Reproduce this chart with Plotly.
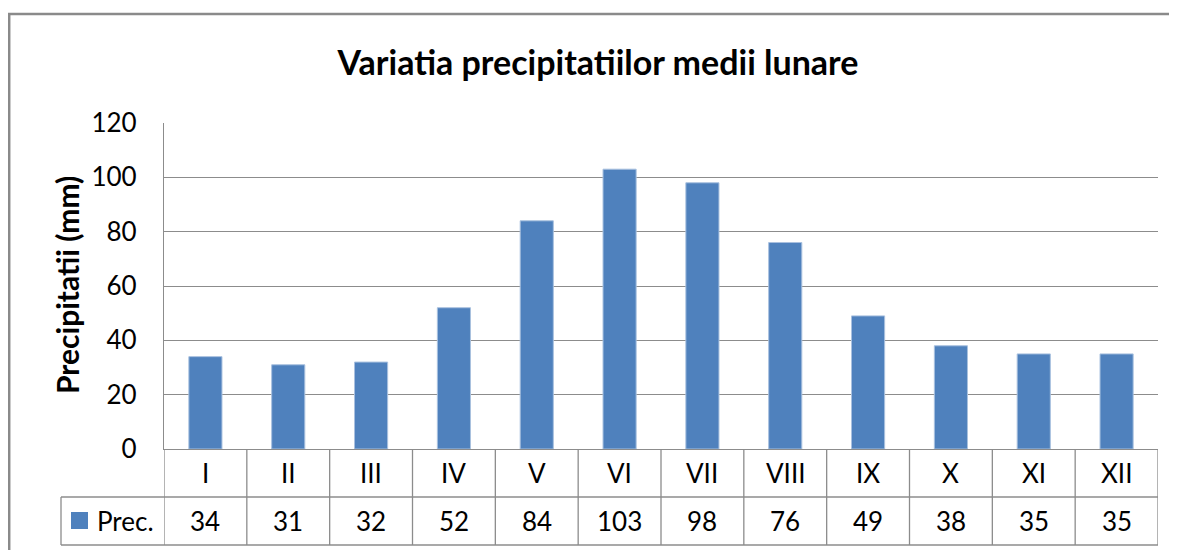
import plotly.graph_objects as go

# ---- data ----
months = ["I", "II", "III", "IV", "V", "VI", "VII", "VIII", "IX", "X", "XI", "XII"]
precip = [34, 31, 32, 52, 84, 103, 98, 76, 49, 38, 35, 35]
series_name = "Prec."
title_text = "Variatia precipitatiilor medii lunare"
y_title = "Precipitatii (mm)"
y_ticks = [0, 20, 40, 60, 80, 100, 120]

# ---- layout geometry (pixels, in screen coords; page body adds an 8px offset) ----
OFF = 8
W, H = 1177 - OFF, 550 - OFF
PLOT_L, PLOT_R, PLOT_T, PLOT_B = 164, 1158, 123, 449   # screen pixels
L = PLOT_L - OFF
T = PLOT_T - OFF
R = W - (PLOT_R - OFF)
B = H - (PLOT_B - OFF)
PW, PH = W - L - R, H - T - B

def px(x):
    return (x - OFF - L) / PW

def py(y):
    return (PLOT_B - y) / PH

FONT = "Lato"
BLUE = "#4F81BD"
GRID = "#8C8C8C"
ROW = 48
row1_mid = PLOT_B + ROW / 2
row2_top = PLOT_B + ROW
row2_mid = PLOT_B + ROW * 1.5
row2_bot = PLOT_B + ROW * 2
legend_left = 61

fig = go.Figure()
fig.add_trace(go.Bar(
    x=months, y=precip, name=series_name, width=0.4,
    marker=dict(color=BLUE, line=dict(color="#A9C1DF", width=1)),
    showlegend=False,
))

shapes = []
line = dict(color=GRID, width=1.3)
for yy in (row2_top, row2_bot):
    shapes.append(dict(type="line", xref="paper", yref="paper",
                       x0=px(legend_left), x1=1, y0=py(yy), y1=py(yy), line=line))
for k in range(len(months) + 1):
    shapes.append(dict(type="line", xref="x", yref="paper",
                       x0=k - 0.5, x1=k - 0.5, y0=py(PLOT_B), y1=py(row2_bot), line=line))
shapes.append(dict(type="line", xref="paper", yref="paper",
                   x0=px(legend_left), x1=px(legend_left), y0=py(row2_top), y1=py(row2_bot), line=line))
shapes.append(dict(type="rect", xref="paper", yref="paper",
                   x0=px(71), x1=px(88), y0=py(529), y1=py(512),
                   fillcolor=BLUE, line=dict(width=0)))
shapes.append(dict(type="rect", xref="paper", yref="paper",
                   x0=px(9.2), x1=px(1195), y0=py(14), y1=py(570),
                   line=dict(color="#8A8A8A", width=2.5), fillcolor="rgba(0,0,0,0)"))

annotations = []
for m, v in zip(months, precip):
    annotations.append(dict(x=m, xref="x", y=py(row1_mid), yref="paper", text=m,
                            showarrow=False, xanchor="center", yanchor="middle",
                            font=dict(family=FONT, size=26, color="#000")))
    annotations.append(dict(x=m, xref="x", y=py(row2_mid), yref="paper", text=str(v),
                            showarrow=False, xanchor="center", yanchor="middle",
                            font=dict(family=FONT, size=26, color="#000")))
annotations.append(dict(x=px(95), xref="paper", y=py(row2_mid), yref="paper", text=series_name,
                        showarrow=False, xanchor="left", yanchor="middle",
                        font=dict(family=FONT, size=26, color="#000")))
annotations.append(dict(x=px(67), xref="paper", y=py(285), yref="paper", text="<b>" + y_title + "</b>",
                        showarrow=False, textangle=-90, xanchor="center", yanchor="middle",
                        font=dict(family=FONT, size=30, color="#000")))

fig.update_layout(
    width=W, height=H,
    margin=dict(l=L, r=R, t=T, b=B),
    paper_bgcolor="white", plot_bgcolor="white",
    title=dict(text="<b>" + title_text + "</b>", x=(598 - OFF) / W, xanchor="center",
               y=1 - (63 - OFF) / H, yanchor="middle", yref="container",
               font=dict(family=FONT, size=34, color="#000")),
    xaxis=dict(type="category", range=[-0.5, len(months) - 0.5], showticklabels=False,
               showgrid=False, showline=True, linecolor=GRID, linewidth=1.3, ticks=""),
    yaxis=dict(range=[0, 120], tickvals=y_ticks, showgrid=True, gridcolor=GRID, gridwidth=1.3,
               zeroline=False, showline=True, linecolor=GRID, linewidth=1.3,
               ticks="", ticklabelstandoff=21,
               tickfont=dict(family=FONT, size=26, color="#000")),
    shapes=shapes, annotations=annotations,
    bargap=0.6,
)

fig.write_html("out.html")
